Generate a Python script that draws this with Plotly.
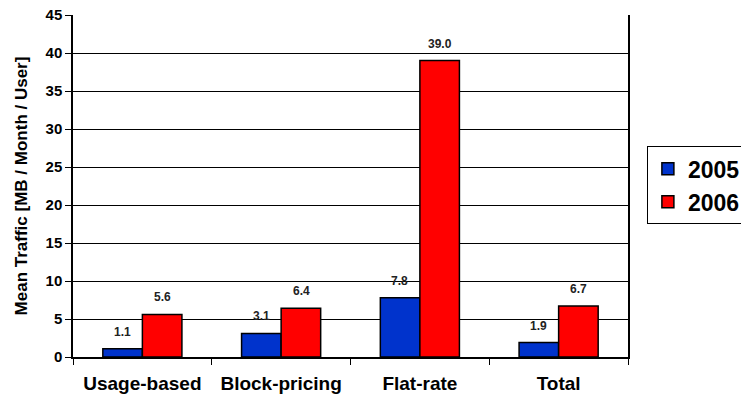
import plotly.graph_objects as go

categories = ["Usage-based", "Block-pricing", "Flat-rate", "Total"]
years = ["2005", "2006"]
traffic_2005 = [1.1, 3.1, 7.8, 1.9]
traffic_2006 = [5.6, 6.4, 39.0, 6.7]
y_ticks = [0, 5, 10, 15, 20, 25, 30, 35, 40, 45]

FONT = "Liberation Sans"
colors = {"2005": "#0033CC", "2006": "#FF0000"}
series = {"2005": traffic_2005, "2006": traffic_2006}

fig = go.Figure()
for yr in years:
    fig.add_trace(go.Bar(
        x=categories, y=series[yr], name=f"<b>{yr}</b>",
        marker=dict(color=colors[yr], line=dict(color="black", width=1.5)),
    ))

# value labels above each bar
for i, yr in enumerate(years):
    shift = -20 if i == 0 else 20
    for cat, v in zip(categories, series[yr]):
        fig.add_annotation(
            x=cat, y=v, text=f"<b>{v:.1f}</b>", showarrow=False,
            xshift=shift, yshift=17,
            font=dict(family=FONT, size=12, color="#222"),
        )

fig.update_layout(
    width=741, height=403,
    margin=dict(l=73, r=113, t=15, b=46, autoexpand=False),
    paper_bgcolor="white", plot_bgcolor="white",
    barmode="group", bargap=0.43, bargroupgap=0,
    showlegend=True,
    legend=dict(
        xref="container", yref="container",
        x=0.873, y=0.54, xanchor="left", yanchor="middle",
        bordercolor="black", borderwidth=1,
        font=dict(family=FONT, size=23, color="black"),
        tracegroupgap=4, itemwidth=30,
    ),
    font=dict(family=FONT, color="black"),
)

fig.update_yaxes(
    range=[0, 45], tickvals=y_ticks,
    ticktext=[f"<b>{t}</b>" for t in y_ticks],
    showgrid=True, gridcolor="black", gridwidth=1,
    showline=True, linecolor="black", linewidth=1.5, mirror=True,
    ticks="outside", ticklen=6, tickcolor="black",
    tickfont=dict(family=FONT, size=15),
    title=dict(text="<b>Mean Traffic [MB / Month / User]</b>",
               font=dict(family=FONT, size=17), standoff=14),
    zeroline=False,
)
fig.update_xaxes(
    tickvals=categories,
    ticktext=[f"<b>{c}</b>" for c in categories],
    tickson="boundaries", ticks="outside", ticklen=6, tickcolor="black",
    ticklabelstandoff=8,
    showline=True, linecolor="black", linewidth=1.5,
    tickfont=dict(family=FONT, size=19),
    showgrid=False,
)

fig.write_html("out.html")
